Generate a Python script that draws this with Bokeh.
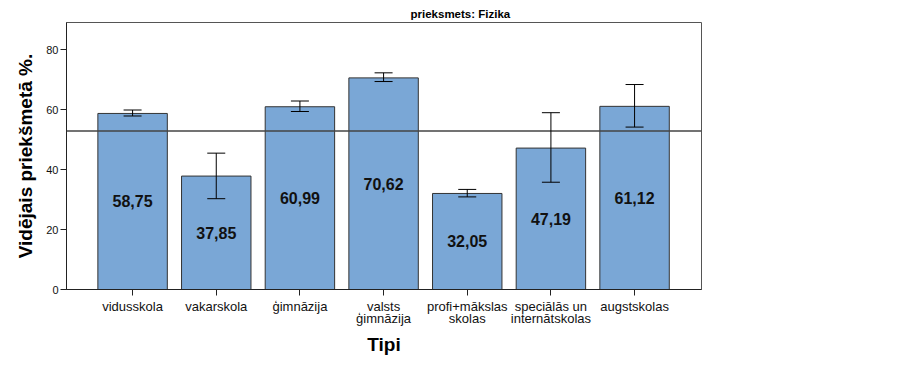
from bokeh.plotting import figure
from bokeh.models import (ColumnDataSource, Range1d, FixedTicker, Span, Whisker,
                          TeeHead)
from bokeh.core.properties import value
from bokeh.embed import file_html
from bokeh.resources import INLINE

# ---- data ----
categories = ["vidusskola", "vakarskola", "ģimnāzija", "valsts\nģimnāzija",
              "profi+mākslas\nskolas", "speciālās un\ninternātskolas", "augstskolas"]
means = [58.75, 37.85, 60.99, 70.62, 32.05, 47.19, 61.12]
ci_low = [57.9, 30.3, 59.4, 69.4, 30.9, 35.8, 54.2]
ci_high = [59.9, 45.5, 62.9, 72.3, 33.4, 59.0, 68.4]
mean_labels = ["58,75", "37,85", "60,99", "70,62", "32,05", "47,19", "61,12"]
overall_mean = 52.9
y_ticks = [0, 20, 40, 60, 80]
title_text = "prieksmets: Fizika"
x_title = "Tipi"
y_title = "Vidējais priekšmetā %."

FONT = "Liberation Sans"
idx = list(range(len(categories)))
src = ColumnDataSource(dict(
    x=idx, top=means, lower=ci_low, upper=ci_high,
    lab=mean_labels, laby=[m / 2 for m in means],
))

p = figure(width=923, height=367, output_backend="svg", toolbar_location=None,
           x_range=Range1d(-0.79, 6.80), y_range=Range1d(0, 89.1),
           min_border_left=66, min_border_right=222, min_border_top=22,
           min_border_bottom=78)
p.background_fill_color = "white"
p.border_fill_color = "white"
p.outline_line_color = "#555555"
p.outline_line_width = 1
p.xgrid.visible = False
p.ygrid.visible = False

# title, placed over the centre of the whole canvas
p.title.text = title_text
p.title.align = "left"
p.title.offset = 344
p.title.standoff = 5
p.title.text_font = FONT
p.title.text_font_size = "11.5px"
p.title.text_font_style = "bold"
p.title.text_color = "black"

p.vbar(x="x", top="top", width=0.83, source=src, fill_color="#7aa7d6",
       line_color="#333333", line_width=1)

p.add_layout(Span(location=overall_mean, dimension="width",
                  line_color="#444444", line_width=1.5))

head = dict(size=18, line_color="black", line_width=1)
p.add_layout(Whisker(source=src, base="x", lower="lower", upper="upper",
                     line_color="black", line_width=1, level="overlay",
                     lower_head=TeeHead(**head), upper_head=TeeHead(**head)))

p.text(x="x", y="laby", text="lab", source=src, text_align="center",
       text_baseline="middle", text_font=value(FONT), text_font_size="16px",
       text_font_style="bold", text_color="#111111")

# axes
p.xaxis.ticker = FixedTicker(ticks=idx)
p.xaxis.major_label_overrides = {i: c for i, c in zip(idx, categories)}
p.xaxis.major_label_text_font = FONT
p.xaxis.major_label_text_font_size = "13px"
p.xaxis.major_label_text_line_height = 0.8
p.xaxis.major_label_text_color = "#111111"
p.xaxis.major_tick_out = 6
p.xaxis.major_tick_in = 0
p.xaxis.minor_tick_out = 0
p.xaxis.minor_tick_in = 0
p.xaxis.major_label_standoff = 3
p.xaxis.axis_label = x_title
p.xaxis.axis_label_text_font = FONT
p.xaxis.axis_label_text_font_size = "19px"
p.xaxis.axis_label_text_font_style = "bold"
p.xaxis.axis_label_text_color = "black"
p.xaxis.axis_label_standoff = 5
p.xaxis.axis_line_color = "#222222"
p.xaxis.major_tick_line_color = "#222222"

p.yaxis.ticker = FixedTicker(ticks=y_ticks)
p.yaxis.major_label_text_font = FONT
p.yaxis.major_label_text_font_size = "11px"
p.yaxis.major_label_text_color = "#111111"
p.yaxis.major_tick_out = 6
p.yaxis.major_tick_in = 0
p.yaxis.minor_tick_out = 0
p.yaxis.minor_tick_in = 0
p.yaxis.major_label_standoff = 2
p.yaxis.axis_label = y_title
p.yaxis.axis_label_text_font = FONT
p.yaxis.axis_label_text_font_size = "19px"
p.yaxis.axis_label_text_font_style = "bold"
p.yaxis.axis_label_text_color = "black"
p.yaxis.axis_label_standoff = 7
p.yaxis.axis_line_color = "#222222"
p.yaxis.major_tick_line_color = "#222222"

open("out.html", "w").write(file_html(p, INLINE))
